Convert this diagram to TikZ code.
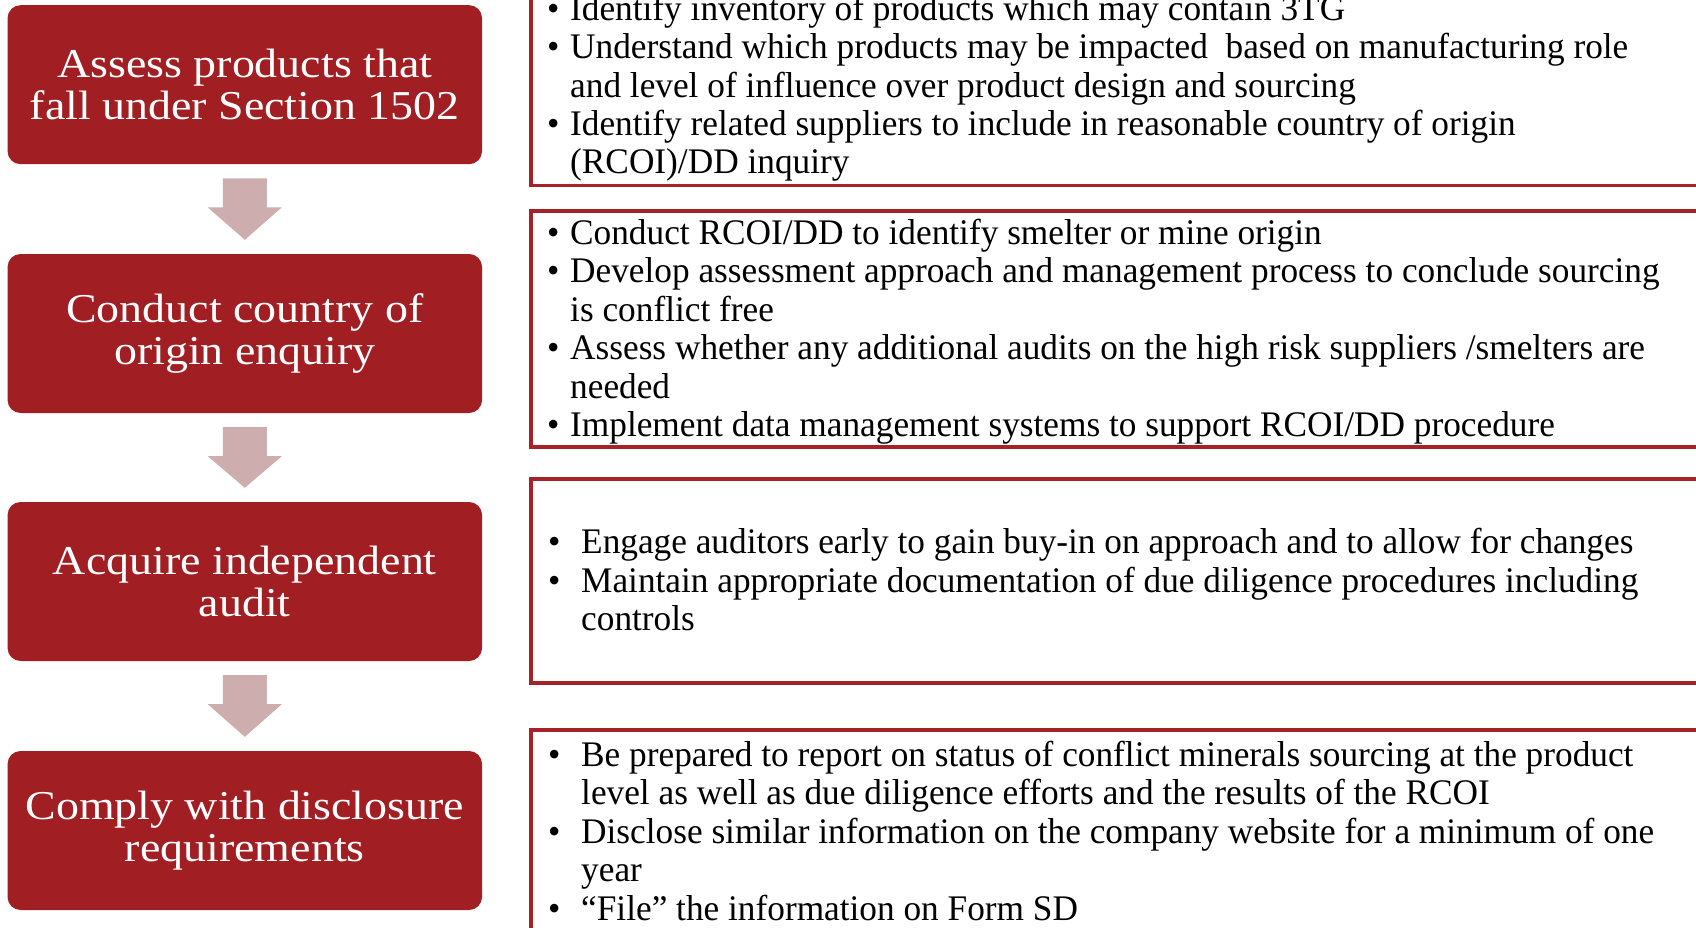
\documentclass[tikz,border=0pt]{standalone}
\usepackage{fontspec}
\setmainfont{Liberation Serif}
\newfontfamily\leftfont[FakeStretch=1.12]{Liberation Serif}
\newfontfamily\rightfont[FakeStretch=0.98]{Liberation Serif}
\usetikzlibrary{calc}
\definecolor{boxred}{HTML}{A11E22}
\definecolor{arrowpink}{HTML}{CDADAD}
\definecolor{linered}{HTML}{A52328}
\newcommand\mybul[1]{\makebox[#1][l]{\textbullet}}
\newcommand\myind[1]{\hspace*{#1}}
\tikzset{
  stage/.style={fill=boxred, rounded corners=13pt, minimum width=474.5pt,
    minimum height=159pt, inner sep=0pt, text=white, align=center,
    font=\leftfont\fontsize{41}{42}\selectfont},
  detail/.style={draw=linered, line width=3.5pt, inner sep=0pt, anchor=north west,
    minimum width=1300pt},
  bullets/.style={anchor=base west, inner sep=0pt, align=left,
    font=\rightfont\fontsize{36}{38.4}\selectfont, text=black},
  flow/.style={fill=arrowpink}
}
\begin{document}
\begin{tikzpicture}[x=1pt,y=-1pt]
\useasboundingbox (0,0) rectangle (1696,928);
\clip (0,0) rectangle (1696,928);
\fill[white] (0,0) rectangle (1696,928);

% left stages
\node[stage] (s1) at (244.8,84.7) {Assess products that\\fall under Section 1502};
\node[stage] (s2) at (244.8,333.5) {Conduct country of\\origin enquiry};
\node[stage] (s3) at (244.8,581.5) {Acquire independent\\audit};
\node[stage] (s4) at (244.8,830.5) {Comply with disclosure\\requirements};

% arrows
\foreach \a/\b in {s1/s2, s2/s3, s3/s4}{
  \fill[flow] ($(\a.south)+(-22,14)$) -- ($(\a.south)+(22,14)$) -- ($(\a.south)+(22,43)$)
    -- ($(\a.south)+(37,43)$) -- ($(\b.north)+(0,-14)$) -- ($(\a.south)+(-37,43)$)
    -- ($(\a.south)+(-22,43)$) -- cycle;
}

% right detail boxes
\node[detail, minimum height=204pt] (d1) at (529,-20) {};
\node[detail, minimum height=236pt] (d2) at (529,209) {};
\node[detail, minimum height=204pt] (d3) at (529,477) {};
\node[detail, minimum height=260pt] (d4) at (529,728) {};

% anchor base = baseline of the last line
\node[bullets] (t1) at (547,174) {%
\mybul{23pt}Identify inventory of products which may contain 3TG\\
\mybul{23pt}Understand which products may be impacted~ based on manufacturing role\\
\myind{23pt}and level of influence over product design and sourcing\\
\mybul{23pt}Identify related suppliers to include in reasonable country of origin\\
\myind{23pt}(RCOI)/DD inquiry};

\node[bullets] (t2) at (547,436.5) {%
\mybul{23pt}Conduct RCOI/DD to identify smelter or mine origin\\
\mybul{23pt}Develop assessment approach and management process to conclude sourcing\\
\myind{23pt}is conflict free\\
\mybul{23pt}Assess whether any additional audits on the high risk suppliers /smelters are\\
\myind{23pt}needed\\
\mybul{23pt}Implement data management systems to support RCOI/DD procedure};

\node[bullets] (t3) at (548,630.5) {%
\mybul{33pt}Engage auditors early to gain buy-in on approach and to allow for changes\\
\mybul{33pt}Maintain appropriate documentation of due diligence procedures including\\
\myind{33pt}controls};

\node[bullets] (t4) at (548,920) {%
\mybul{33pt}Be prepared to report on status of conflict minerals sourcing at the product\\
\myind{33pt}level as well as due diligence efforts and the results of the RCOI\\
\mybul{33pt}Disclose similar information on the company website for a minimum of one\\
\myind{33pt}year\\
\mybul{33pt}“File” the information on Form SD};
\end{tikzpicture}
\end{document}
